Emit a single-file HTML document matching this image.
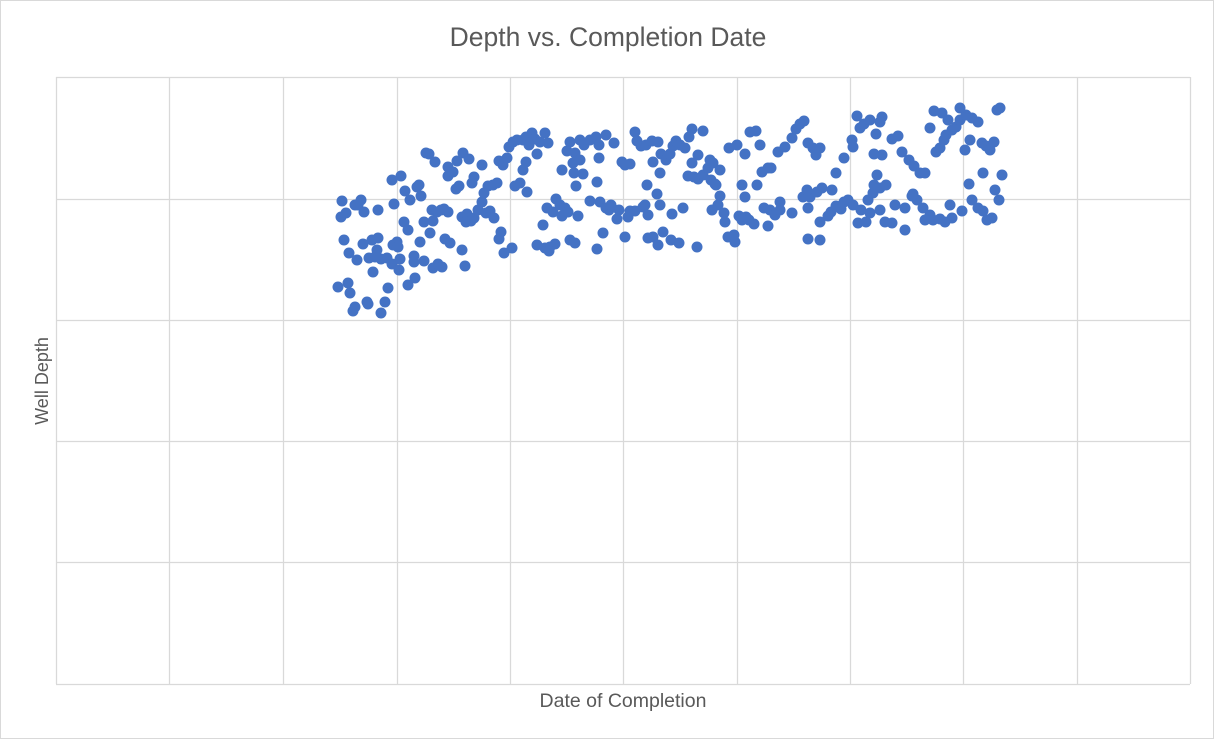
<!DOCTYPE html>
<html><head><meta charset="utf-8"><style>
body{margin:0;background:#fff;}
svg{display:block;font-family:"Liberation Sans",sans-serif;}
</style></head><body>
<svg id="chart" width="1214" height="739">
<rect x="0.5" y="0.5" width="1213" height="738" fill="#fff" stroke="#d9d9d9"/>
<text x="608" y="46" text-anchor="middle" font-size="26.5" fill="#595959">Depth vs. Completion Date</text>
<text x="623" y="707" text-anchor="middle" font-size="19.5" fill="#595959">Date of Completion</text>
<text transform="translate(48,381) rotate(-90)" text-anchor="middle" font-size="18" fill="#595959">Well Depth</text>
<g id="grid"></g><g id="pts"></g>
</svg>
<script>
// x: completion date units; y: well depth units (axis reversed)
const dateDomain = [56, 1190];
const depthDomain = [77, 684];
const xTicks = [56,169,283,397,510,623,737,850,963,1077,1190];
const yTicks = [77,199,320,441,562,684];
const observations = [[342,201],[341,217],[346,213],[344,240],[349,253],[357,260],[338,287],[348,283],[350,293],[353,311],[355,307],[367,302],[368,304],[373,272],[363,244],[372,240],[378,238],[375,257],[369,258],[381,259],[387,258],[377,250],[355,205],[361,200],[358,205],[364,212],[378,210],[381,313],[385,302],[388,288],[392,264],[393,245],[397,242],[398,247],[399,270],[400,259],[394,204],[392,180],[401,176],[405,191],[404,222],[408,230],[410,200],[408,285],[415,278],[417,187],[419,185],[421,196],[414,256],[414,262],[420,242],[424,261],[426,153],[429,154],[435,162],[432,210],[437,212],[444,209],[448,212],[441,210],[433,221],[424,222],[430,233],[433,268],[438,264],[442,267],[445,239],[450,243],[448,176],[448,167],[453,172],[456,189],[459,186],[457,161],[463,153],[469,159],[474,177],[472,183],[462,217],[467,214],[471,221],[466,222],[474,218],[478,210],[482,202],[486,213],[490,211],[484,193],[488,186],[493,185],[482,165],[497,183],[462,250],[465,266],[494,218],[499,239],[501,232],[504,253],[499,161],[503,165],[507,158],[512,248],
[509,147],[513,142],[517,140],[523,140],[526,137],[532,133],[535,139],[529,145],[537,154],[545,133],[540,142],[548,143],[526,162],[523,170],[515,186],[520,183],[527,192],[543,225],[547,208],[556,199],[560,205],[565,208],[562,216],[553,212],[568,212],[578,216],[537,245],[545,248],[550,247],[555,244],[549,251],[570,240],[575,243],[562,170],[567,151],[570,142],[575,153],[584,145],[580,140],[590,140],[596,137],[599,145],[606,135],[614,143],[573,163],[580,160],[583,174],[576,186],[574,173],[599,158],[590,201],[597,182],[600,202],[606,208],[609,210],[619,210],[628,217],[617,219],[611,205],[597,249],[603,233],[625,237],[630,211],[635,211],[643,207],[648,215],[625,165],[622,162],[630,164],[635,132],[637,141],[646,145],[652,141],[658,142],[641,146],[653,162],[661,154],[660,173],[666,160],[670,154],[673,146],[676,141],[680,145],[685,148],[647,185],[657,194],[648,238],[653,237],[658,245],[663,232],[671,240],[679,243],[645,205],[660,205],[672,214],[683,208],[692,129],[703,131],[689,137],[698,155],[692,163],[688,176],[694,177],[698,179],[703,175],[710,160],[708,168],[713,163],[720,170],[697,247],[716,185],[720,196],[718,205],[712,210],[724,213],[725,222],[728,237],[735,242],[734,235],[711,180],[715,184],
[729,148],[737,145],[745,154],[750,132],[756,131],[760,145],[768,168],[771,168],[778,152],[785,147],[792,138],[796,129],[804,121],[800,124],[808,143],[813,148],[820,148],[816,155],[762,172],[757,185],[742,185],[745,197],[739,216],[742,220],[746,217],[749,220],[754,224],[764,208],[770,210],[775,215],[780,210],[792,213],[780,202],[768,226],[803,197],[810,197],[807,190],[817,192],[822,188],[808,208],[820,222],[828,216],[808,239],[820,240],[831,212],[836,206],[841,209],[844,202],[832,190],[836,173],[844,158],[852,140],[853,147],[860,128],[864,124],[870,120],[876,134],[882,117],[880,122],[892,139],[898,136],[902,152],[909,160],[914,166],[920,173],[925,173],[882,155],[877,175],[848,200],[853,205],[861,210],[868,200],[873,193],[874,185],[880,188],[886,185],[858,223],[866,222],[870,213],[885,222],[892,223],[905,230],[880,210],[895,205],[905,208],[912,196],[917,200],[923,208],[930,215],[933,220],[940,219],[945,222],[952,218],[936,152],[940,148],[944,140],[946,135],[952,130],[956,127],[960,120],[966,115],[972,118],[930,128],[934,111],[942,113],[948,120],[960,108],[978,122],[982,143],[986,146],[990,150],[994,142],[997,110],[970,140],[965,150],[969,184],[972,200],[978,208],[983,211],[987,220],[992,218],[995,190],[999,200],[1002,175],[983,173],[962,211],[950,205],[1000,108],[874,154],[857,116],[913,194],[925,220]];
const dates = observations.map(o => o[0]);
const depths = observations.map(o => o[1]);

const NS = "http://www.w3.org/2000/svg";
const plot = {left:56, right:1190, top:77, bottom:684};
function xScale(v){return plot.left + (v - dateDomain[0]) / (dateDomain[1] - dateDomain[0]) * (plot.right - plot.left);}
function yScale(v){return plot.top + (v - depthDomain[0]) / (depthDomain[1] - depthDomain[0]) * (plot.bottom - plot.top);}

const grid = document.getElementById('grid');
xTicks.forEach(t => {
  const l = document.createElementNS(NS, 'line');
  
  
  const x = Math.round(xScale(t)) + 0.5;
  l.setAttribute('x1', x); l.setAttribute('x2', x);
  l.setAttribute('y1', plot.top); l.setAttribute('y2', plot.bottom);
  l.setAttribute('stroke', '#d9d9d9'); l.setAttribute('stroke-width', '1.3');
  grid.appendChild(l);
});
yTicks.forEach(t => {
  const l = document.createElementNS(NS, 'line');
  
  
  const y = Math.round(yScale(t)) + 0.5;
  l.setAttribute('x1', plot.left); l.setAttribute('x2', plot.right);
  l.setAttribute('y1', y); l.setAttribute('y2', y);
  l.setAttribute('stroke', '#d9d9d9'); l.setAttribute('stroke-width', '1.3');
  grid.appendChild(l);
});
const pts = document.getElementById('pts');
dates.forEach((d, i) => {
  const c = document.createElementNS(NS, 'circle');
  
  
  c.setAttribute('cx', xScale(d));
  c.setAttribute('cy', yScale(depths[i]));
  c.setAttribute('r', 5.5);
  c.setAttribute('fill', '#4472c4');
  pts.appendChild(c);
});
</script>
</body></html>
